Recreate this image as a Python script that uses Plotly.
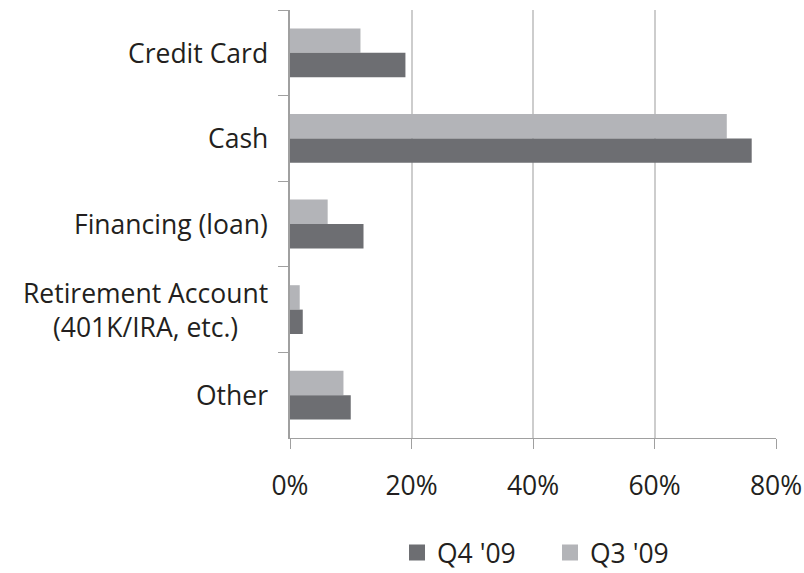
import plotly.graph_objects as go

# Survey categories (top to bottom) and share of respondents per quarter
categories = ["Credit Card", "Cash", "Financing (loan)", "Retirement Account", "Other"]
category_labels = ["Credit Card", "Cash", "Financing (loan)",
                   "Retirement Account<br>(401K/IRA, etc.)", "Other"]
q3_values = [11.6, 71.9, 6.2, 1.6, 8.8]
q4_values = [19.0, 76.0, 12.1, 2.1, 10.0]
x_ticks = [0, 20, 40, 60, 80]
x_tick_labels = ["0%", "20%", "40%", "60%", "80%"]

DARK = "#6d6e72"
LIGHT = "#b3b4b8"
FONT = "Open Sans"
FSIZE = 26.5
TEXT = "#231f20"

fig = go.Figure()
fig.add_trace(go.Bar(y=categories, x=q3_values, orientation="h", name="Q3 '09",
                     marker=dict(color=LIGHT, line=dict(width=0)), showlegend=False))
fig.add_trace(go.Bar(y=categories, x=q4_values, orientation="h", name="Q4 '09",
                     marker=dict(color=DARK, line=dict(width=0)), showlegend=False))

# Legend entries with larger square swatches
for name, color in [("Q4 '09", DARK), ("Q3 '09", LIGHT)]:
    fig.add_trace(go.Scatter(x=[None], y=[None], mode="markers", name=name,
                             marker=dict(symbol="square", size=16, color=color)))

# Category labels, centred line by line
for cat, lab in zip(categories, category_labels):
    fig.add_annotation(x=0, y=cat, xref="paper", yref="y", text=lab, showarrow=False,
                       xanchor="right", yanchor="middle", align="center", xshift=-20,
                       font=dict(family=FONT, size=FSIZE, color=TEXT))

fig.update_layout(
    width=804, height=573,
    margin=dict(l=290, r=28, t=10, b=135, autoexpand=False),
    paper_bgcolor="white", plot_bgcolor="white",
    barmode="group", bargap=0.43, bargroupgap=0,
    font=dict(family=FONT, size=FSIZE, color=TEXT),
    legend=dict(orientation="h", x=0.535, xanchor="center", y=-0.212, yanchor="top",
                font=dict(family=FONT, size=FSIZE, color=TEXT), itemwidth=30,
                entrywidth=108, entrywidthmode="pixels", traceorder="normal"),
)
fig.update_xaxes(range=[0, 80], tickvals=x_ticks, ticktext=x_tick_labels,
                 showgrid=True, gridcolor="#cdcdcd", gridwidth=2,
                 showline=True, linecolor="#a0a0a0", linewidth=1,
                 ticks="outside", ticklen=10, tickcolor="#a0a0a0",
                 ticklabelstandoff=14, zeroline=False, automargin=False,
                 tickfont=dict(family=FONT, size=FSIZE, color=TEXT))
fig.update_yaxes(autorange="reversed", showticklabels=False, tickson="boundaries",
                 ticks="outside", ticklen=10, tickcolor="#a0a0a0", automargin=False,
                 showline=True, linecolor="#a0a0a0", linewidth=1.5, showgrid=False)

fig.write_html("out.html")
